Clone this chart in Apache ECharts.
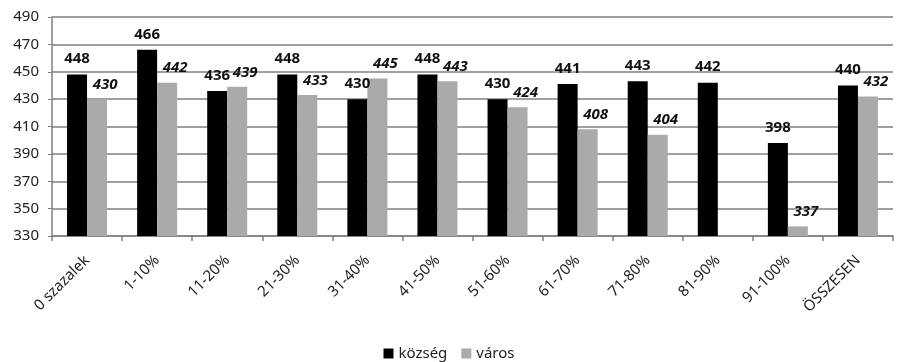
<!DOCTYPE html>
<html>
<head>
<meta charset="utf-8">
<script src="https://cdn.jsdelivr.net/npm/echarts@6/dist/echarts.min.js"></script>
<style>
  html, body { margin: 0; padding: 0; background: #fff; }
  #chart { width: 898px; height: 362px; }
</style>
</head>
<body>
<div id="chart"></div>
<script>
// Categories along the x axis
const categories = ['0 szazalek', '1-10%', '11-20%', '21-30%', '31-40%', '41-50%',
                    '51-60%', '61-70%', '71-80%', '81-90%', '91-100%', 'ÖSSZESEN'];
// Series values (null = no data)
const kozseg = [448, 466, 436, 448, 430, 448, 430, 441, 443, 442, 398, 440];
const varos  = [430, 442, 439, 433, 445, 443, 424, 408, 404, null, 337, 432];
// Value axis range
const yMin = 330, yMax = 490, yStep = 20;

const font = '"Noto Sans", "Open Sans", sans-serif';
const chart = echarts.init(document.getElementById('chart'));
chart.setOption({
  animation: false,
  textStyle: { fontFamily: font },
  grid: { left: 52, right: 5, top: 17, bottom: 126 },
  legend: {
    bottom: -4, left: 'center',
    itemWidth: 10, itemHeight: 10, itemGap: 14,
    icon: 'rect',
    textStyle: { fontSize: 15, color: '#222', fontFamily: font },
    data: ['község', 'város']
  },
  xAxis: {
    type: 'category',
    data: categories,
    axisLine: { lineStyle: { color: '#808080', width: 1.5 } },
    axisTick: { show: true, length: 5, lineStyle: { color: '#808080', width: 1.5 } },
    axisLabel: { rotate: 45, fontSize: 15, color: '#222', margin: 22, fontFamily: font }
  },
  yAxis: {
    type: 'value',
    min: yMin, max: yMax, interval: yStep,
    axisLine: { show: true, lineStyle: { color: '#808080', width: 1.5 } },
    axisTick: { show: true, length: 4, lineStyle: { color: '#808080' } },
    splitLine: { lineStyle: { color: '#808080', width: 1.5 } },
    axisLabel: { fontSize: 15, color: '#222', margin: 13, fontFamily: font }
  },
  series: [
    {
      name: 'község', type: 'bar', data: kozseg,
      barWidth: 20, barGap: '0%',
      itemStyle: { color: '#000' },
      label: { show: true, position: 'top', distance: 8, fontSize: 15,
               fontWeight: 'bold', color: '#111', fontFamily: font }
    },
    {
      name: 'város', type: 'bar', data: varos,
      barWidth: 20,
      itemStyle: { color: '#aaaaaa' },
      label: { show: true, position: 'top', distance: 7, offset: [8, 0], fontSize: 15,
               fontWeight: 'bold', fontStyle: 'italic', color: '#111', fontFamily: font }
    }
  ]
});
</script>
</body>
</html>
